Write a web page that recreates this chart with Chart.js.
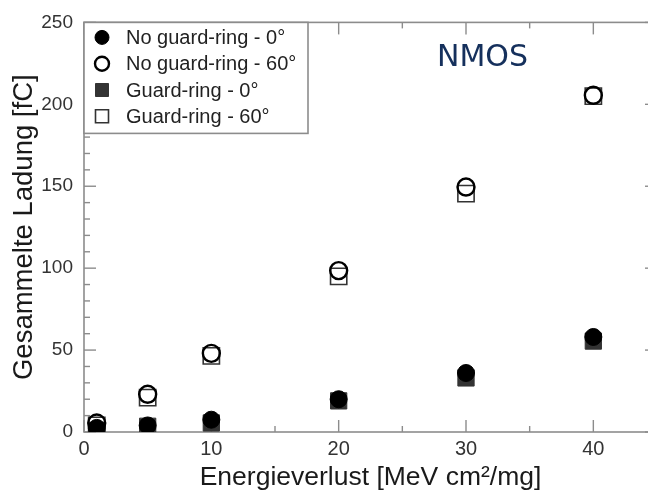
<!DOCTYPE html>
<html>
<head>
<meta charset="utf-8">
<script src="https://cdn.jsdelivr.net/npm/chart.js@4"></script>
<style>
  html, body { margin: 0; padding: 0; background: #fff; overflow: hidden; }
  canvas { display: block; }
</style>
</head>
<body>
<canvas id="c" width="648" height="495" style="width:648px;height:495px"></canvas>
<script>
// Energy loss (MeV cm²/mg)
const energy = [1, 5, 10, 20, 30, 40];
// Collected charge (fC) per configuration
const noGuard0  = [2.5, 4, 7.5, 20, 36, 58];
const noGuard60 = [5.5, 23, 48, 98.5, 149.5, 205.5];
const guard0    = [1, 3.5, 5.5, 19, 33, 55.5];
const guard60   = [4, 21, 46.5, 95, 145.5, 205];

const seriesLabels = ['No guard-ring - 0°', 'No guard-ring - 60°', 'Guard-ring - 0°', 'Guard-ring - 60°'];
const xTicks = [0, 10, 20, 30, 40];
const yTicks = [0, 50, 100, 150, 200, 250];
const xMinor = [5, 15, 25, 35];
const yMinor = [10, 20, 30, 40, 60, 70, 80, 90, 110, 120, 130, 140, 160, 170, 180, 190, 210, 220, 230, 240];

const FONT = '"Liberation Sans", Arial, Helvetica, sans-serif';
const FRAME = '#8c8c8c';
// The plot box runs a little past the right edge of the canvas
const PLOT_RIGHT = 657;

function pts(ys) { return energy.map((x, i) => ({ x: x, y: ys[i] })); }

const styles = [
  { pointStyle: 'circle', pointRadius: 8.5, backgroundColor: '#000', borderColor: '#000', borderWidth: 1 },
  { pointStyle: 'circle', pointRadius: 8.5, backgroundColor: 'rgba(0,0,0,0)', borderColor: '#000', borderWidth: 2.4 },
  { pointStyle: 'rect', pointRadius: 11.5, backgroundColor: '#333', borderColor: '#333', borderWidth: 1 },
  { pointStyle: 'rect', pointRadius: 11.5, backgroundColor: 'rgba(0,0,0,0)', borderColor: '#333', borderWidth: 1.6 }
];
const values = [noGuard0, noGuard60, guard0, guard60];

const datasets = values.map((v, i) => Object.assign({
  label: seriesLabels[i],
  data: pts(v),
  showLine: false,
  pointHoverRadius: styles[i].pointRadius
}, styles[i], { pointBorderWidth: styles[i].borderWidth }));

// Stretch the x axis so the plot box extends beyond the canvas edge
const extendPlugin = {
  id: 'extendRight',
  afterLayout(chart) {
    const x = chart.scales.x;
    chart.chartArea.right = PLOT_RIGHT;
    chart.chartArea.width = PLOT_RIGHT - chart.chartArea.left;
    x.right = PLOT_RIGHT;
    x.width = PLOT_RIGHT - x.left;
    x.configure();
  }
};

// Boxed frame with inward tick marks on all four sides
const framePlugin = {
  id: 'frame',
  beforeDatasetsDraw(chart) {
    const { ctx, chartArea: a, scales: { x, y } } = chart;
    ctx.save();
    ctx.strokeStyle = FRAME;
    ctx.lineWidth = 1.6;
    ctx.strokeRect(a.left, a.top, a.right - a.left, a.bottom - a.top);
    ctx.lineWidth = 1.4;
    const tick = (x1, y1, x2, y2) => { ctx.beginPath(); ctx.moveTo(x1, y1); ctx.lineTo(x2, y2); ctx.stroke(); };
    xTicks.forEach(v => { const px = x.getPixelForValue(v); tick(px, a.bottom, px, a.bottom - 12); tick(px, a.top, px, a.top + 12); });
    xMinor.forEach(v => { const px = x.getPixelForValue(v); tick(px, a.bottom, px, a.bottom - 6); tick(px, a.top, px, a.top + 6); });
    yTicks.forEach(v => { const py = y.getPixelForValue(v); tick(a.left, py, a.left + 12, py); tick(a.right, py, a.right - 12, py); });
    yMinor.forEach(v => { const py = y.getPixelForValue(v); tick(a.left, py, a.left + 6, py); tick(a.right, py, a.right - 6, py); });
    ctx.restore();
  }
};

// Boxed legend in the upper-left corner of the plot, plus the NMOS label
const legendPlugin = {
  id: 'boxLegend',
  afterDatasetsDraw(chart) {
    const { ctx, chartArea: a } = chart;
    ctx.save();
    const boxW = 224, rowH = 26.3, top = a.top;
    ctx.fillStyle = '#fff';
    ctx.fillRect(a.left, top, boxW, 111);
    ctx.strokeStyle = FRAME;
    ctx.lineWidth = 1.6;
    ctx.strokeRect(a.left, top, boxW, 111);
    chart.data.datasets.forEach((ds, i) => {
      const cy = top + 15 + i * rowH;
      const cx = a.left + 18;
      ctx.lineWidth = ds.borderWidth;
      ctx.strokeStyle = ds.borderColor;
      ctx.fillStyle = ds.backgroundColor;
      if (ds.pointStyle === 'circle') {
        ctx.beginPath();
        ctx.arc(cx, cy, 7, 0, Math.PI * 2);
        ctx.fill();
        ctx.stroke();
      } else {
        ctx.beginPath();
        ctx.rect(cx - 6.5, cy - 6.5, 13, 13);
        ctx.fill();
        ctx.stroke();
      }
      ctx.fillStyle = '#222';
      ctx.font = '20px ' + FONT;
      ctx.textBaseline = 'middle';
      ctx.textAlign = 'left';
      ctx.fillText(ds.label, a.left + 42, cy + 1);
    });
    ctx.fillStyle = '#15305c';
    ctx.font = '30px "DejaVu Sans", Verdana, sans-serif';
    ctx.textBaseline = 'middle';
    ctx.fillText('NMOS', 437, 58);
    ctx.restore();
  }
};

new Chart(document.getElementById('c'), {
  type: 'scatter',
  data: { datasets },
  options: {
    responsive: false,
    animation: false,
    events: [],
    layout: { padding: { top: 18, right: 2, left: 0, bottom: 0 } },
    plugins: { legend: { display: false }, tooltip: { enabled: false } },
    scales: {
      x: {
        type: 'linear',
        min: 0, max: 45,
        afterFit(s) { s.height = 63; },
        afterBuildTicks(s) { s.ticks = xTicks.map(v => ({ value: v })); },
        grid: { display: false, drawTicks: false },
        border: { display: false },
        ticks: { padding: 5, color: '#333', font: { family: FONT, size: 20 }, maxRotation: 0 },
        title: { display: true, text: 'Energieverlust [MeV cm²/mg]', color: '#1a1a1a',
                 font: { family: FONT, size: 26.5 }, padding: { top: 0, bottom: 1 } }
      },
      y: {
        type: 'linear',
        min: 0, max: 250,
        afterFit(s) { s.width = 84; },
        afterBuildTicks(s) { s.ticks = yTicks.map(v => ({ value: v })); },
        grid: { display: false, drawTicks: false },
        border: { display: false },
        ticks: { padding: 11, color: '#333', font: { family: FONT, size: 19 } },
        title: { display: true, text: 'Gesammelte Ladung [fC]', color: '#1a1a1a',
                 font: { family: FONT, size: 27.5 }, padding: { top: 8, bottom: 0 } }
      }
    }
  },
  plugins: [extendPlugin, framePlugin, legendPlugin]
});
</script>
</body>
</html>
